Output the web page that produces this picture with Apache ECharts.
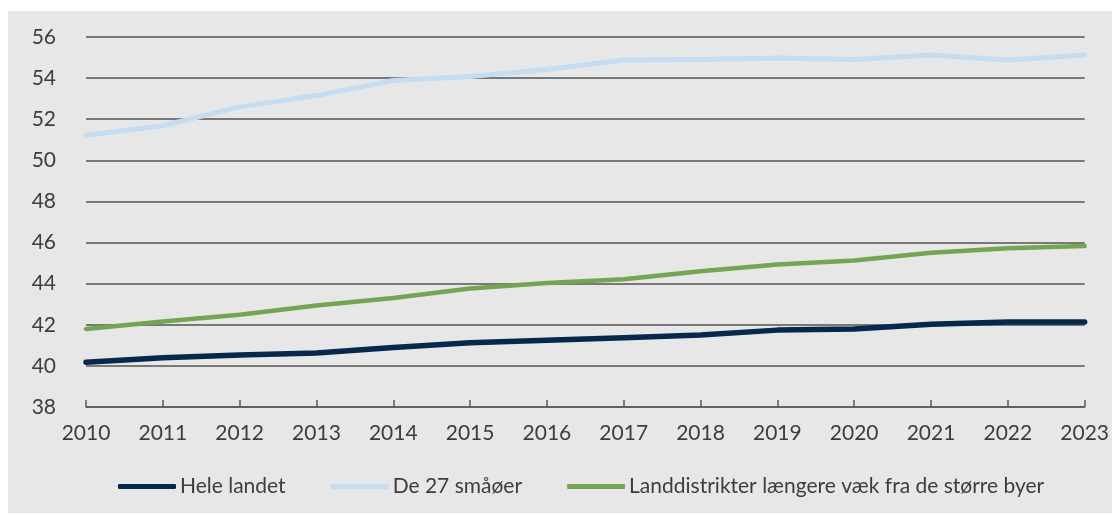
<!DOCTYPE html>
<html>
<head>
<meta charset="utf-8">
<script src="https://cdn.jsdelivr.net/npm/echarts@6/dist/echarts.min.js"></script>
<style>
  html, body { margin: 0; padding: 0; background: #ffffff; }
  #chart { width: 1112px; height: 515px; }
</style>
</head>
<body>
<div id="chart"></div>
<script>
// Gennemsnitsalder, 2010-2023
const years = ['2010', '2011', '2012', '2013', '2014', '2015', '2016', '2017', '2018', '2019', '2020', '2021', '2022', '2023'];
const heleLandet = [40.18, 40.4, 40.53, 40.63, 40.89, 41.12, 41.25, 41.37, 41.5, 41.74, 41.8, 42.03, 42.13, 42.13];
const smaaoeer = [51.22, 51.68, 52.6, 53.15, 53.88, 54.08, 54.42, 54.88, 54.9, 54.98, 54.9, 55.12, 54.88, 55.12];
const landdistrikter = [41.8, 42.16, 42.49, 42.94, 43.3, 43.77, 44.03, 44.22, 44.6, 44.93, 45.13, 45.5, 45.72, 45.83];

const seriesNames = ['Hele landet', 'De 27 småøer', 'Landdistrikter længere væk fra de større byer'];
const seriesColors = ['#06284d', '#c6dcf1', '#74a553'];
const seriesWidths = [5.5, 5, 4.5];
const seriesData = [heleLandet, smaaoeer, landdistrikter];

const textColor = '#3d3d3d';
const fontFamily = 'Lato, "Open Sans", sans-serif';
const fontSize = 21;

const chart = echarts.init(document.getElementById('chart'), null, { renderer: 'canvas' });

chart.setOption({
  backgroundColor: '#ffffff',
  animation: false,
  graphic: [{
    type: 'rect',
    z: -100,
    silent: true,
    shape: { x: 8, y: 11, width: 1104, height: 502 },
    style: { fill: '#e6e7e6' }
  }],
  grid: { left: 86, right: 27, top: 37, bottom: 108, containLabel: false },
  legend: {
    left: 118,
    top: 476,
    padding: 0,
    itemWidth: 58,
    itemHeight: 5,
    itemGap: 45,
    icon: 'roundRect',
    textStyle: { color: textColor, fontSize: fontSize, fontFamily: fontFamily, padding: [0, 0, 0, -1] },
    data: seriesNames
  },
  xAxis: {
    type: 'category',
    data: years,
    boundaryGap: false,
    axisLine: { show: true, lineStyle: { color: '#5a5a5a', width: 1.5 } },
    axisTick: { show: true, inside: true, length: 7, alignWithLabel: true, lineStyle: { color: '#5a5a5a', width: 1.5 } },
    axisLabel: { color: textColor, fontSize: fontSize, fontFamily: fontFamily, margin: 16, interval: 0 },
    splitLine: { show: false }
  },
  yAxis: {
    type: 'value',
    min: 38,
    max: 56,
    interval: 2,
    axisLine: { show: false },
    axisTick: { show: false },
    axisLabel: { color: textColor, fontSize: fontSize, fontFamily: fontFamily, margin: 30 },
    splitLine: { show: true, lineStyle: { color: '#555555', width: 1.5 } }
  },
  series: seriesNames.map((name, i) => ({
    name: name,
    type: 'line',
    data: seriesData[i],
    showSymbol: false,
    symbol: 'none',
    smooth: false,
    color: seriesColors[i],
    lineStyle: { color: seriesColors[i], width: seriesWidths[i], cap: 'round', join: 'round' },
    z: 3 + i
  }))
});
</script>
</body>
</html>
